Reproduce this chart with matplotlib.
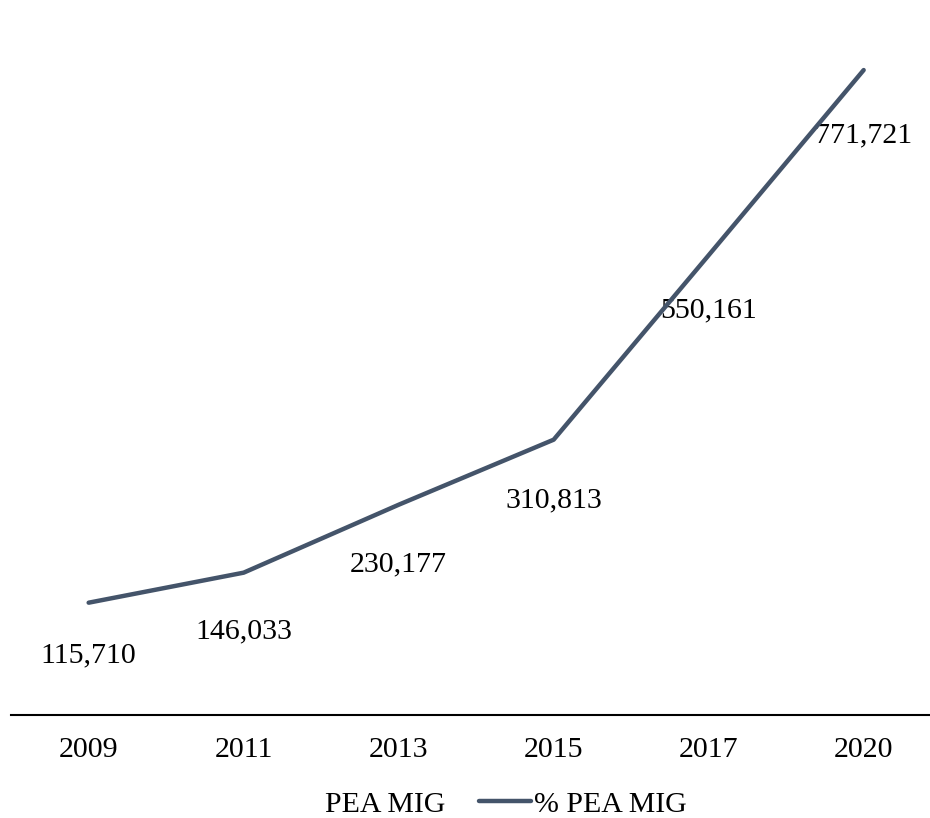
import numpy as np
import matplotlib.pyplot as plt

plt.rcParams['font.family'] = ['Liberation Serif', 'DejaVu Serif']

# data
years = ['2009', '2011', '2013', '2015', '2017', '2020']
pea_mig = [115710, 146033, 230177, 310813, 550161, 771721]
pea_mig_labels = ['115,710', '146,033', '230,177', '310,813', '550,161', '771,721']
pct_pea_mig = [1.57, 1.99, 2.94, 3.85, 6.43, 9.02]   # estimated, labels are hidden

line_color = '#44546A'
fs = 21.5

fig = plt.figure(figsize=(9.3, 8.18), dpi=100)
ax = fig.add_axes([0.012, 0.126, 1.0, 0.874])
x = np.arange(len(years))

bars = ax.bar(x, pea_mig, width=0.6, color='white', label='PEA MIG')
for xi, v, lab in zip(x, pea_mig, pea_mig_labels):
    ax.annotate(lab, (xi, v), xytext=(0, -23), textcoords='offset points',
                ha='center', va='center', fontsize=fs, color='black')

ax.set_ylim(0, 902000)
ax.set_xlim(-0.5, 5.5)
ax.set_yticks([])
ax.set_xticks(x)
ax.set_xticklabels(years, fontsize=fs)
ax.tick_params(axis='x', length=0, pad=16)
for s in ['top', 'right', 'left']:
    ax.spines[s].set_visible(False)
ax.spines['bottom'].set_linewidth(1.5)

ax2 = ax.twinx()
line, = ax2.plot(x, pct_pea_mig, color=line_color, lw=3.2,
                 solid_capstyle='round', label='% PEA MIG')
ax2.set_ylim(0, 10)
ax2.set_yticks([])
for s in ['top', 'right', 'left', 'bottom']:
    ax2.spines[s].set_visible(False)

leg = fig.legend([bars, line], ['PEA MIG', '% PEA MIG'], loc='center',
                 bbox_to_anchor=(0.5145, 0.017), ncol=2, frameon=False,
                 fontsize=fs, handlelength=1.74, handletextpad=0.1,
                 columnspacing=1.1)

fig.savefig('out.png', dpi=100)
